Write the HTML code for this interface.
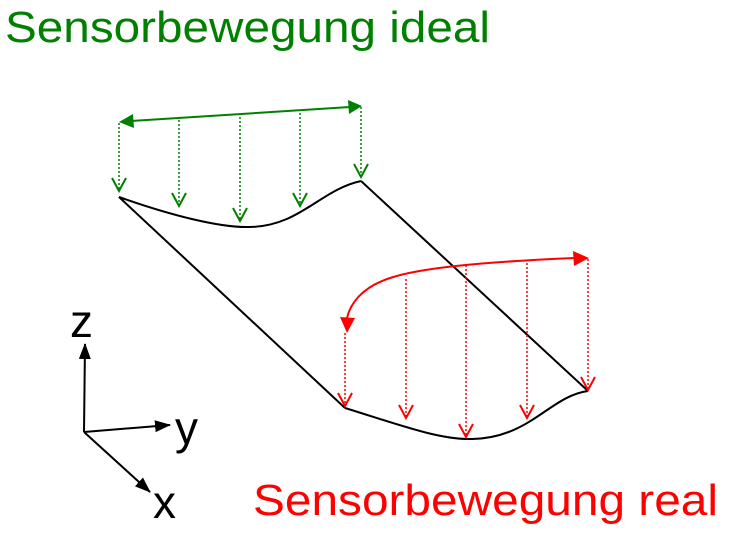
<!DOCTYPE html>
<html><head><meta charset="utf-8"><style>html,body{margin:0;padding:0;background:#fff}svg{display:block}</style></head><body>
<svg width="733" height="541" viewBox="0 0 733 541" xmlns="http://www.w3.org/2000/svg">
<defs>
<marker id="kf" markerWidth="16" markerHeight="12" refX="15" refY="6" orient="auto" markerUnits="userSpaceOnUse"><path d="M0,0 L16,6 L0,12z" fill="#000"/></marker>
<marker id="gv" markerWidth="18" markerHeight="16" refX="15" refY="8" orient="auto" markerUnits="userSpaceOnUse"><path d="M2,1 L15,8 L2,15" fill="none" stroke="#008000" stroke-width="2"/></marker>
<marker id="rv" markerWidth="18" markerHeight="16" refX="15" refY="8" orient="auto" markerUnits="userSpaceOnUse"><path d="M2,1 L15,8 L2,15" fill="none" stroke="#ff0000" stroke-width="2"/></marker>
</defs>
<text x="5" y="42" font-family="Liberation Sans, sans-serif" font-size="44" fill="#008000" textLength="485" lengthAdjust="spacingAndGlyphs">Sensorbewegung ideal</text>
<text x="253" y="515" font-family="Liberation Sans, sans-serif" font-size="44" fill="#ff0000" textLength="465" lengthAdjust="spacingAndGlyphs">Sensorbewegung real</text>
<g fill="none" stroke="#008000" stroke-width="2">
<line x1="131" y1="121" x2="350" y2="107"/>
<path d="M133,114 L119,122 L134,128z M348,100 L362,106 L349,114z" fill="#008000" stroke="none"/>
</g>
<g stroke="#008000" stroke-width="1.5" stroke-dasharray="2,2" fill="none">
<line x1="119" y1="123" x2="119" y2="191" marker-end="url(#gv)"/>
<line x1="179" y1="120" x2="179" y2="206" marker-end="url(#gv)"/>
<line x1="240" y1="117" x2="240" y2="221" marker-end="url(#gv)"/>
<line x1="300" y1="113" x2="300" y2="206" marker-end="url(#gv)"/>
<line x1="361" y1="107" x2="361" y2="177" marker-end="url(#gv)"/>
</g>
<g fill="none" stroke="#000" stroke-width="2">
<path d="M119,197 C170,215 220,228 250,227 C300,226 320,190 361,181"/>
<line x1="119" y1="197" x2="345" y2="408"/>
<line x1="361" y1="181" x2="588" y2="391"/>
<path d="M345,408 C400,425 440,440 472,439 C530,438 550,396 588,391"/>
</g>
<path d="M575,258 C480,262 420,268 390,278 C360,288 350,305 347,318" fill="none" stroke="#ff0000" stroke-width="2"/>
<path d="M573,251 L589,258 L574,266z M340,317 L347,333 L355,318z" fill="#ff0000"/>
<g stroke="#ff0000" stroke-width="1.5" stroke-dasharray="2,2" fill="none">
<line x1="345" y1="333" x2="345" y2="406" marker-end="url(#rv)"/>
<line x1="406" y1="279" x2="406" y2="418" marker-end="url(#rv)"/>
<line x1="466" y1="265" x2="466" y2="437" marker-end="url(#rv)"/>
<line x1="527" y1="263" x2="527" y2="418" marker-end="url(#rv)"/>
<line x1="588" y1="259" x2="588" y2="390" marker-end="url(#rv)"/>
</g>
<g stroke="#000" stroke-width="2" fill="none">
<line x1="84" y1="432" x2="85" y2="344" marker-end="url(#kf)"/>
<line x1="84" y1="432" x2="170" y2="425" marker-end="url(#kf)"/>
<line x1="84" y1="432" x2="150" y2="492" marker-end="url(#kf)"/>
</g>
<g font-family="Liberation Sans, sans-serif" font-size="46" fill="#000">
<text x="70" y="337">z</text>
<text x="175" y="444">y</text>
<text x="153" y="518">x</text>
</g>
</svg>
</body></html>
